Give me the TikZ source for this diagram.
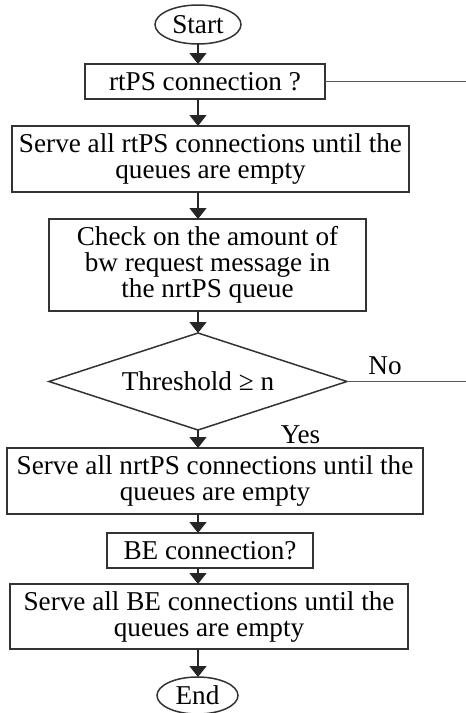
\documentclass[tikz,border=0pt]{standalone}
\usepackage{fontspec}
\setmainfont{Liberation Serif}
\usetikzlibrary{positioning,arrows.meta,shapes.geometric}

\begin{document}
\begin{tikzpicture}[font=\fontsize{13.6}{13}\selectfont, line width=0.75pt,
  term/.style={draw=black!80, ellipse, inner sep=0pt, outer sep=0pt, minimum width=43pt, minimum height=19.5pt},
  proc/.style={draw=black!80, align=center, inner sep=2pt, outer sep=0pt},
  test/.style={draw=black!80, diamond, aspect=3, inner sep=0pt, outer sep=0pt, minimum width=149pt, minimum height=48.5pt},
  lbl/.style={inner sep=0pt},
  arr/.style={-{Triangle[width=8.5pt,length=5.5pt]}, draw=black!85},
  exit/.style={draw=black!65, line width=0.9pt}]
\useasboundingbox (0,0) rectangle (233pt,-356.5pt);
\coordinate (rim) at (233pt,0);
\node[term] (start) at (99pt,-12.25pt) {Start};
\node[proc, below=10pt of start, xshift=3.5pt, minimum width=120pt, minimum height=17.5pt] (rt) {rtPS connection ?};
\node[proc, below=13.5pt of rt, xshift=2.75pt, minimum width=198.5pt, minimum height=33pt] (srt) {Serve all rtPS connections until the\\queues are empty};
\node[proc, below=13.5pt of srt, xshift=-1.5pt, minimum width=158.5pt, minimum height=46pt] (chk) {Check on the amount of\\bw request message in\\the nrtPS queue};
\node[test, below=11pt of chk, xshift=-4.75pt] (thr) {Threshold ≥ n};
\node[proc, below=9pt of thr, xshift=8.5pt, minimum width=208pt, minimum height=33pt] (snrt) {Serve all nrtPS connections until the\\queues are empty};
\node[proc, below=9.5pt of snrt, xshift=-2.5pt, minimum width=103pt, minimum height=17.5pt] (be) {BE connection?};
\node[proc, below=8pt of be, xshift=-0.5pt, minimum width=199pt, minimum height=32.5pt] (sbe) {Serve all BE connections until the\\queues are empty};
\node[term, below=14pt of sbe, xshift=-5.75pt, minimum width=40.5pt, minimum height=18.5pt] (stop) {End};
\node[lbl, anchor=base west] (yes) at ([xshift=41pt, yshift=-6.5pt]thr.south) {Yes};
\draw[arr] (start.south) -- (rt.north -| start);
\draw[arr] (rt.south -| start) -- (srt.north -| start);
\draw[arr] (srt.south -| start) -- (chk.north -| start);
\draw[arr] (chk.south -| start) -- (thr.north -| start);
\draw[arr] (thr.south -| start) -- (snrt.north -| start);
\draw[arr] (snrt.south -| start) -- (be.north -| start);
\draw[arr] (be.south -| start) -- (sbe.north -| start);
\draw[arr] (sbe.south -| start) -- (stop.north -| start);
\draw[exit] (rt.east) -- (rt.east -| rim);
\draw[exit] (thr.east) -- node[lbl, pos=0.32, above=3pt, text=black] (no) {No} (thr.east -| rim);
\end{tikzpicture}
\end{document}
